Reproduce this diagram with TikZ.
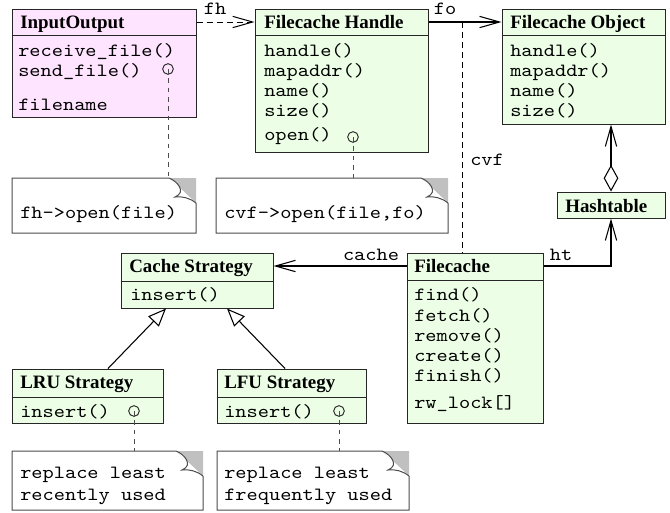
\documentclass[tikz,border=0pt]{standalone}
\usepackage{fontspec}
\setmainfont{Liberation Serif}
\setmonofont{lmmono10-regular.otf}[FakeStretch=1.143]
\usetikzlibrary{arrows.meta,fit}
\definecolor{iofill}{RGB}{255,228,255}
\definecolor{clsfill}{RGB}{236,255,230}
\definecolor{foldgray}{RGB}{192,192,192}
\tikzset{
  cls/.style={draw=black!85, line width=0.75pt, inner sep=0pt, fill=clsfill},
  sep/.style={draw=black!85, line width=0.75pt},
  hdr/.style={anchor=base west, inner sep=0pt, font=\fontsize{14.2}{16}\selectfont\bfseries},
  mth/.style={anchor=base west, inner sep=0pt, font=\fontsize{14}{16}\selectfont\ttfamily},
  lbl/.style={anchor=base, inner sep=0pt, font=\fontsize{14}{16}\selectfont\ttfamily},
  assoc/.style={line width=0.8pt, -{Straight Barb[length=15pt,width=8.5pt]}},
  gen/.style={line width=0.8pt, -{Triangle[open,length=13.5pt,width=11pt]}},
  agg/.style={line width=0.8pt, {Diamond[open,length=20pt,width=11pt]}-{Straight Barb[length=15pt,width=8.5pt]}},
  dashln/.style={line width=0.75pt, dash pattern=on 4.5pt off 3pt},
  notelink/.style={line width=0.75pt, draw=black!70, dash pattern=on 3.5pt off 3.5pt},
  noteline/.style={line width=0.75pt, draw=black!70},
  pin/.style={line width=0.7pt, draw=black!85},
}
\newcommand\umlnote[5]{%
  \node[fit={(#2,#3) (#4,#5)}, inner sep=0pt] (#1) {};
  \fill[foldgray] (#4-27,#3) -- (#4,#3) -- (#4,#3+25) -- cycle;
  \fill[white] (#4-27,#3) .. controls (#4-19,#3+3) and (#4-9,#3+14) .. (#4-21,#3+19)
     .. controls (#4-14,#3+18) and (#4-6,#3+20) .. (#4,#3+25) -- cycle;
  \draw[noteline] (#4,#3+25) -- (#4,#5) -- (#2,#5) -- (#2,#3) -- (#4-27,#3)
     .. controls (#4-19,#3+3) and (#4-9,#3+14) .. (#4-21,#3+19)
     .. controls (#4-14,#3+18) and (#4-6,#3+20) .. (#4,#3+25);
}
\begin{document}
\begin{tikzpicture}[x=0.75pt,y=-0.75pt]
\fill[white] (0,0) rectangle (670,512);
\useasboundingbox (0,0) rectangle (670,512);

% ---------- InputOutput
\node[cls, fill=iofill, fit={(12,9) (196,117)}] (io) {};
\draw[sep] (io.west |- 0,35) -- (io.east |- 0,35);
\node[hdr] (ioh) at (20,28) {InputOutput};
\node[mth] (io1) at (18,56) {receive\_file()};
\node[mth] (io2) at (18,76) {send\_file()};
\node[mth] (io3) at (18,110) {filename};

% ---------- Filecache Handle
\node[cls, fit={(255,9) (428,152)}] (fhd) {};
\draw[sep] (fhd.west |- 0,35) -- (fhd.east |- 0,35);
\node[hdr] (fhdh) at (264,28) {Filecache Handle};
\node[mth] (fhd1) at (264,56) {handle()};
\node[mth] (fhd2) at (264,76) {mapaddr()};
\node[mth] (fhd3) at (264,96) {name()};
\node[mth] (fhd4) at (264,116) {size()};
\node[mth] (fhd5) at (264,140) {open()};

% ---------- Filecache Object
\node[cls, fit={(502,9) (665,124)}] (fob) {};
\draw[sep] (fob.west |- 0,35) -- (fob.east |- 0,35);
\node[hdr] (fobh) at (510,28) {Filecache Object};
\node[mth] (fob1) at (510,56) {handle()};
\node[mth] (fob2) at (510,76) {mapaddr()};
\node[mth] (fob3) at (510,96) {name()};
\node[mth] (fob4) at (510,116) {size()};

% ---------- Hashtable
\node[cls, fit={(557,192) (665,218)}] (hsh) {};
\node[hdr] (hshh) at (565,212) {Hashtable};

% ---------- Filecache
\node[cls, fit={(407,253) (543,423)}] (fc) {};
\draw[sep] (fc.west |- 0,280) -- (fc.east |- 0,280);
\node[hdr] (fch) at (414,272) {Filecache};
\node[mth] (fc1) at (414,300) {find()};
\node[mth] (fc2) at (414,321) {fetch()};
\node[mth] (fc3) at (414,341) {remove()};
\node[mth] (fc4) at (414,361) {create()};
\node[mth] (fc5) at (414,381) {finish()};
\node[mth] (fc6) at (414,408) {rw\_lock[]};

% ---------- Cache Strategy
\node[cls, fit={(121,253) (273,308)}] (cs) {};
\draw[sep] (cs.west |- 0,281) -- (cs.east |- 0,281);
\node[hdr] (csh) at (129,272) {Cache Strategy};
\node[mth] (cs1) at (130,300) {insert()};

% ---------- LRU Strategy
\node[cls, fit={(12,369) (163,423)}] (lru) {};
\draw[sep] (lru.west |- 0,397) -- (lru.east |- 0,397);
\node[hdr] (lruh) at (20,388) {LRU Strategy};
\node[mth] (lru1) at (20,417) {insert()};

% ---------- LFU Strategy
\node[cls, fit={(217,369) (366,423)}] (lfu) {};
\draw[sep] (lfu.west |- 0,397) -- (lfu.east |- 0,397);
\node[hdr] (lfuh) at (224,388) {LFU Strategy};
\node[mth] (lfu1) at (224,417) {insert()};

% ---------- notes
\umlnote{n1}{12}{178}{196}{233}
\node[mth] (n1t) at (20,218) {fh->open(file)};
\umlnote{n2}{216}{178}{448}{233}
\node[mth] (n2t) at (224,218) {cvf->open(file,fo)};
\umlnote{n3}{12}{451}{203}{510}
\node[mth] (n3a) at (20,478) {replace least};
\node[mth] (n3b) at (20,500) {recently used};
\umlnote{n4}{217}{451}{409}{510}
\node[mth] (n4a) at (224,478) {replace least};
\node[mth] (n4b) at (224,500) {frequently used};

% ---------- note pins
\coordinate (p1) at (168,69);
\coordinate (p2) at (353,137);
\coordinate (p3) at (134,411);
\coordinate (p4) at (339,411);
\foreach \p/\n in {p1/n1,p2/n2,p3/n3,p4/n4}{
  \draw[pin] (\p) circle[radius=4pt];
  \draw[notelink] (\p) -- (\n.north -| \p);
}

% ---------- connectors
\draw[assoc, dashln] (io.east |- 0,22) -- (fhd.west |- 0,22);
\node[lbl] (lfh) at (215,14) {fh};
\draw[assoc] (fhd.east |- 0,22) -- (fob.west |- 0,22);
\node[lbl] (lfo) at (445,14) {fo};
\coordinate (cvfs) at (462,22);
\draw[dashln] (cvfs) -- (fc.north -| cvfs);
\node[mth] (lcvf) at (470,165) {cvf};
\draw[assoc] (fc.west |- 0,266) -- (cs.east |- 0,266);
\node[lbl] (lcache) at (371,260) {cache};
\draw[assoc] (fc.east |- 0,266) -| (hsh.south);
\node[lbl] (lht) at (561,260) {ht};
\draw[agg] (hsh.north) -- (fob.south -| hsh.north);
\draw[gen] (lru.north -| 108,0) -- (cs.south -| 166,0);
\draw[gen] (lfu.north -| 285,0) -- (cs.south -| 227,0);
\end{tikzpicture}
\end{document}
